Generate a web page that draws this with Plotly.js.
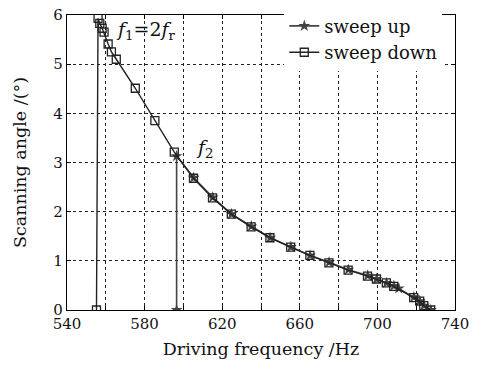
<!DOCTYPE html>
<html><head><meta charset="utf-8">
<script src="https://cdn.plot.ly/plotly-3.0.1.min.js"></script>
<style>html,body{margin:0;padding:0;background:#fff}#c{width:493px;height:367px}</style>
</head><body><div id="c"></div>
<script>
// sweep up (stars)
const upFreq  = [596.5, 596.5, 605.3, 615.1, 624.8, 635.0, 644.7, 655.4, 665.3, 675.1, 685.0, 695.0, 699.6, 704.7, 708.5, 711.0, 718.8, 721.9, 724.0, 727.5];
const upAngle = [0, 3.13, 2.69, 2.29, 1.95, 1.70, 1.47, 1.28, 1.11, 0.97, 0.82, 0.70, 0.63, 0.55, 0.49, 0.44, 0.26, 0.18, 0.09, 0];
// sweep down (squares)
const downFreq  = [727.5, 723.9, 721.8, 718.7, 708.4, 704.6, 699.5, 694.9, 684.9, 675.0, 665.2, 655.3, 644.6, 634.9, 624.7, 615.0, 605.2, 595.3, 585.3, 575.2, 565.4, 562.9, 561.2, 559.1, 558.1, 556.9, 556.0, 555.2];
const downAngle = [0, 0.09, 0.18, 0.25, 0.48, 0.55, 0.63, 0.69, 0.81, 0.96, 1.11, 1.28, 1.47, 1.69, 1.95, 2.28, 2.68, 3.21, 3.85, 4.51, 5.10, 5.25, 5.41, 5.65, 5.73, 5.83, 5.93, 0];
const xTickVals = [540, 560, 580, 600, 620, 640, 660, 680, 700, 720, 740];
const xTickText = ['540', '', '580', '', '620', '', '660', '', '700', '', '740'];
const yTicks = [0, 1, 2, 3, 4, 5, 6];

const fam = 'DejaVu Serif, serif';
const tickFont = {family: fam, size: 15, color: '#111'};
const titleFont = {family: fam, size: 17.5, color: '#111'};
const data = [
  {x: upFreq, y: upAngle, name: 'sweep up', mode: 'lines+markers',
   line: {color: '#444', width: 1.6},
   marker: {symbol: 'star', size: 9, color: '#444'}},
  {x: downFreq, y: downAngle, name: 'sweep down', mode: 'lines+markers',
   line: {color: '#222', width: 1.4},
   marker: {symbol: 'square-open', size: 8, color: '#222', line: {width: 1.3}}}
];
const gridAxis = {
  showline: true, linecolor: '#000', linewidth: 1.2, mirror: 'allticks',
  ticks: 'inside', ticklen: 4, tickcolor: '#000',
  showgrid: true, gridcolor: '#222', griddash: 'dot', gridwidth: 1,
  zeroline: false, tickfont: tickFont
};
const layout = {
  width: 493, height: 367,
  margin: {l: 66.5, r: 37.5, t: 15, b: 56.5, autoexpand: false},
  paper_bgcolor: '#fff', plot_bgcolor: '#fff',
  font: tickFont,
  xaxis: Object.assign({}, gridAxis, {range: [540, 740],
    tickvals: xTickVals, ticktext: xTickText,
    title: {text: 'Driving frequency /Hz', font: titleFont, standoff: 10}}),
  yaxis: Object.assign({}, gridAxis, {range: [0, 6], tickvals: yTicks,
    title: {text: 'Scanning angle /(°)', font: titleFont, standoff: 22}}),
  legend: {x: 0.56, y: 1.025, xanchor: 'left', yanchor: 'top',
    bgcolor: '#fff', borderwidth: 0, font: {family: fam, size: 18, color: '#111'},
    tracegroupgap: 0, itemwidth: 30},
  showlegend: true,
  annotations: [
    {x: 580.5, y: 5.68, xref: 'x', yref: 'y', showarrow: false,
     text: '<i>f</i><sub>1</sub>=2<i>f</i><sub>r</sub>', font: {family: fam, size: 19, color: '#111'}},
    {x: 611, y: 3.28, xref: 'x', yref: 'y', showarrow: false,
     text: '<i>f</i><sub>2</sub>', font: {family: fam, size: 19, color: '#111'}}
  ]
};
Plotly.newPlot('c', data, layout, {displayModeBar: false, staticPlot: true});
</script></body></html>
